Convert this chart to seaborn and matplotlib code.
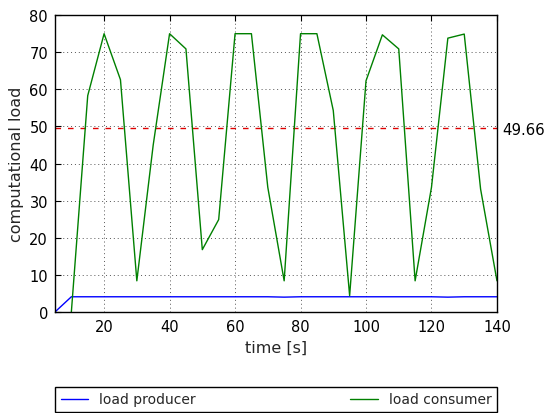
import matplotlib
matplotlib.use("Agg")
import matplotlib.pyplot as plt
import seaborn as sns
import pandas as pd

time_s = [5, 10, 15, 20, 25, 30, 35, 40, 45, 50, 55, 60, 65, 70, 75, 80, 85, 90,
          95, 100, 105, 110, 115, 120, 125, 130, 135, 140]
load_producer = [0, 4.1, 4.1, 4.1, 4.1, 4.1, 4.1, 4.1, 4.1, 4.1, 4.1, 4.1, 4.1, 4.1,
                 4.0, 4.1, 4.1, 4.1, 4.1, 4.1, 4.1, 4.1, 4.1, 4.1, 4.0, 4.1, 4.1, 4.1]
load_consumer = [None, 0, 58.3, 75.0, 62.6, 8.4, 45.0, 75.0, 70.9, 16.8, 24.9, 75.0,
                 75.0, 33.6, 8.4, 75.0, 75.0, 54.3, 4.4, 62.3, 74.7, 70.9, 8.4, 33.6,
                 73.8, 74.9, 33.1, 8.4]
mean_consumer = 49.66
x_ticks = [20, 40, 60, 80, 100, 120, 140]
y_ticks = [0, 10, 20, 30, 40, 50, 60, 70, 80]

sns.set_style("white")
plt.rcParams["font.family"] = ["DejaVu Sans"]
plt.rcParams["font.size"] = 10.5

df_p = pd.DataFrame({"t": time_s, "v": load_producer})
df_c = pd.DataFrame({"t": time_s, "v": load_consumer}).dropna()

fig = plt.figure(figsize=(5.46, 4.14), dpi=100)
ax = fig.add_axes([0.1007, 0.244, 0.8095, 0.717])

sns.lineplot(data=df_p, x="t", y="v", ax=ax, color="#0000ff", linewidth=1.0,
             label="load producer")
sns.lineplot(data=df_c, x="t", y="v", ax=ax, color="#008000", linewidth=1.0,
             label="load consumer")
ax.axhline(mean_consumer, color="#e00000", linestyle="--", linewidth=1.0, dashes=(4, 5),
           zorder=1)

ax.set_xlim(5, 140)
ax.set_ylim(0, 80)
ax.set_xticks(x_ticks)
ax.set_yticks(y_ticks)
ax.set_xlabel("time [s]", fontsize=11.5)
ax.set_ylabel("computational load", fontsize=11.5)
ax.grid(True, color="#555555", linestyle=(0, (1, 3)), linewidth=0.7)
ax.tick_params(direction="in", length=4, width=0.8, top=True, right=False,
               labelsize=10.5, colors="black", pad=5)
for s in ax.spines.values():
    s.set_color("black")
    s.set_linewidth(1.0)

ax2 = ax.twinx()
ax2.set_ylim(0, 80)
ax2.set_yticks([mean_consumer])
ax2.set_yticklabels(["%.2f" % mean_consumer])
ax2.tick_params(direction="out", length=0, labelsize=10.8, colors="black", pad=4)
for s in ax2.spines.values():
    s.set_visible(False)

leg = ax.legend(loc="upper left", bbox_to_anchor=(0, -0.2525, 1, 0), mode="expand",
                ncol=2, borderaxespad=0, fancybox=False, frameon=True,
                edgecolor="black", framealpha=1, fontsize=10, handlelength=2.0)
leg.get_frame().set_linewidth(1.0)

fig.savefig("out.png", dpi=100, facecolor="white")
